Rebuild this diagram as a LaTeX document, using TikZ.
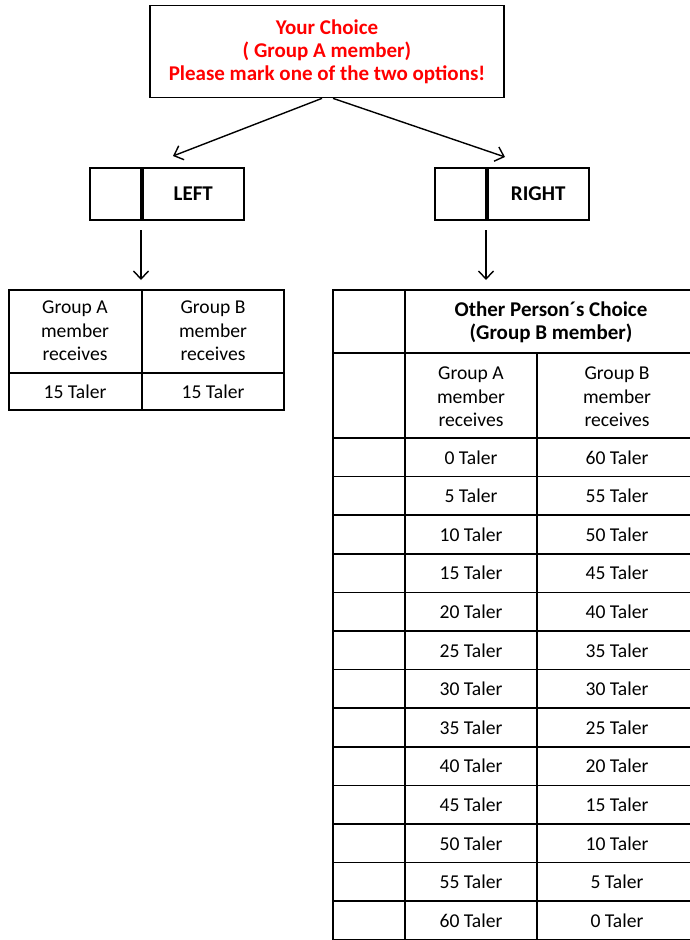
\documentclass[tikz,border=0pt]{standalone}
\usepackage{fontspec}
\setmainfont{Carlito}
\usetikzlibrary{arrows.meta}

\begin{document}
\begin{tikzpicture}[x=1pt,y=-1pt,line width=1.7pt,
  box/.style={draw,inner sep=0pt,line width=1.7pt},
  txt/.style={font=\fontsize{19.6}{23.5}\selectfont,align=center,inner sep=0pt},
  btxt/.style={txt,font=\fontsize{21}{23}\selectfont\bfseries},
  arr/.style={-{Straight Barb[length=8pt,width=15pt]},line width=1.4pt}]
\definecolor{choicered}{RGB}{255,0,0}
\useasboundingbox (0,0) rectangle (690,940);

% Draw choice box
\node[box,btxt,text=choicered,minimum width=354pt,minimum height=92pt] (choice) at (327,51.5)
  {Your Choice\\( Group A member)\\Please mark one of the two options!};

% Draw option boxes
\node[box,minimum width=51pt,minimum height=52pt] (leftmark) at (115.5,194) {};
\node[box,btxt,minimum width=101pt,minimum height=52pt,anchor=west] (lefttxt) at (leftmark.east) {LEFT};
\node[box,minimum width=51pt,minimum height=52pt] (rightmark) at (460.5,194) {};
\node[box,btxt,minimum width=101pt,minimum height=52pt,anchor=west] (righttxt) at (rightmark.east) {RIGHT};

% Arrows
\coordinate (lefttip) at (173,156);
\coordinate (righttip) at (505,157);
\coordinate (leftfrom) at (141,230);
\coordinate (leftto) at (141,280);
\coordinate (rightfrom) at (486,230);
\coordinate (rightto) at (486,280);
\draw[arr] ([xshift=-5pt]choice.south) -- (lefttip);
\draw[arr] ([xshift=6pt]choice.south) -- (righttip);
\draw[arr] (leftfrom) -- (leftto);
\draw[arr] (rightfrom) -- (rightto);

% Left table
\draw (9,290) rectangle (284,410);
\draw (9,373) -- (284,373);
\draw (142,290) -- (142,410);
\node[txt] (lefta) at (75,331) {Group A\\member\\receives};
\node[txt] (leftb) at (213,331) {Group B\\member\\receives};
\node[txt] (leftav) at (75,392) {15 Taler};
\node[txt] (leftbv) at (213,392) {15 Taler};

% Right table
\draw (333,290) rectangle (697,939.8);
\draw (405,290) -- (405,939.8);
\draw (537,353) -- (537,939.8);
\draw (405,353) -- (697,353);
\draw (333,438) -- (697,438);
\draw (333,353) -- (405,353);
\foreach \k in {1,...,12}
  \draw (333,438+38.6*\k) -- (697,438+38.6*\k);
\node[btxt] (other) at (551,322) {Other Person´s Choice\\(Group B member)};
\node[txt] (righta) at (471,397) {Group A\\member\\receives};
\node[txt] (rightb) at (617,397) {Group B\\member\\receives};
\foreach \a [count=\k] in {0,5,...,60} {
  \pgfmathtruncatemacro\b{60-\a}
  \node[txt] (ra\k) at (471,438+38.6*\k-19.3) {\a{} Taler};
  \node[txt] (rb\k) at (617,438+38.6*\k-19.3) {\b{} Taler};
}
\end{tikzpicture}
\end{document}
